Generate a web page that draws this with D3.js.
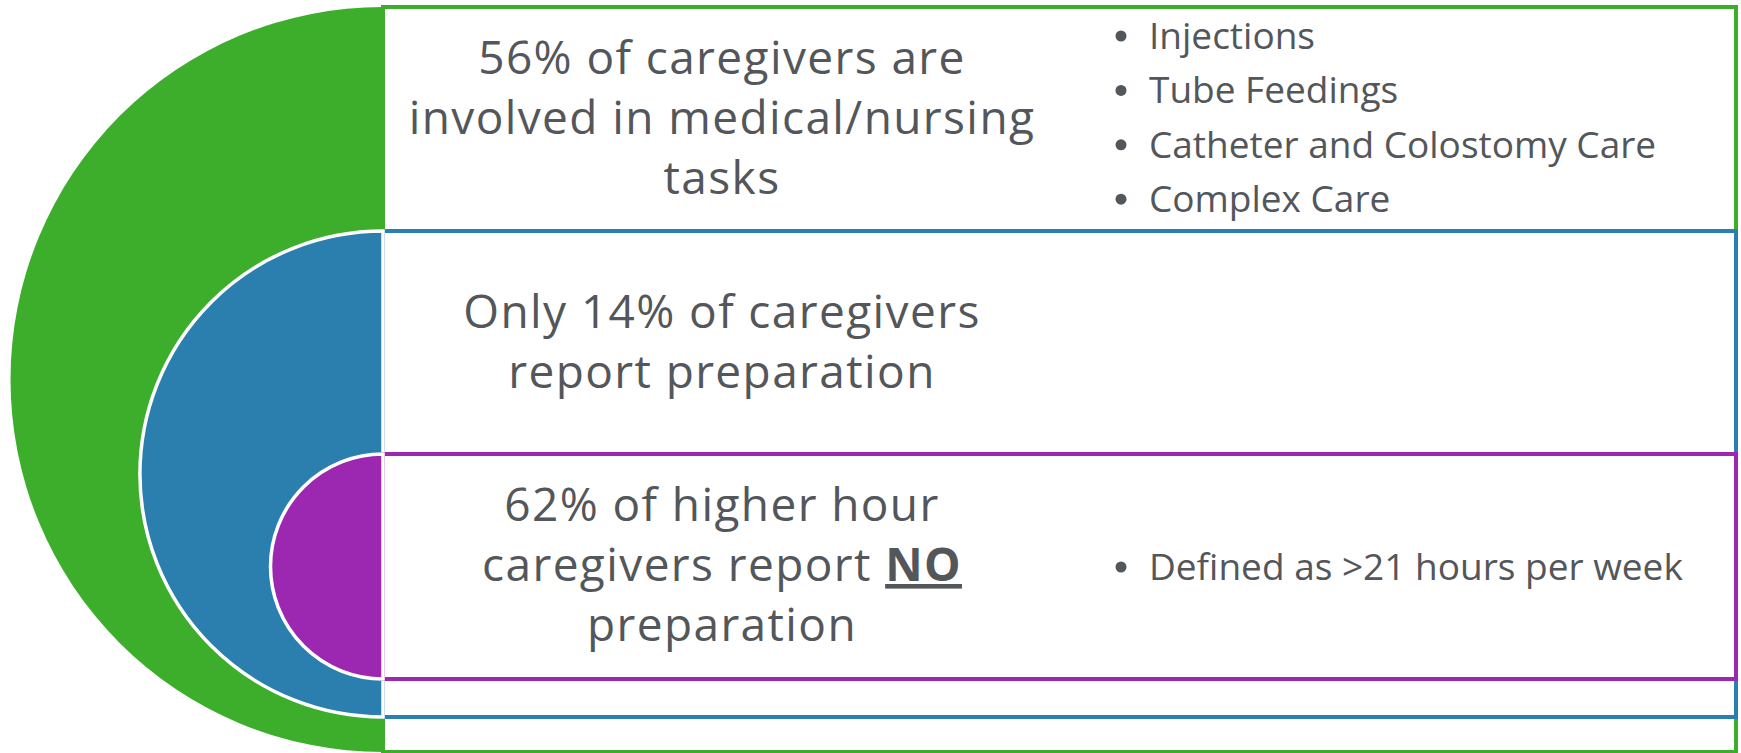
<!DOCTYPE html>
<html>
<head>
<meta charset="utf-8">
<script src="https://d3js.org/d3.v7.min.js"></script>
<style>
  body { margin: 0; background: #fff; }
  svg { display: block; }
</style>
</head>
<body>
<svg id="chart"></svg>
<script>
const width = 1741
const height = 753

// data
const levels = ["medical", "preparation", "noPreparation"]
const levelColours = ["#3dae2b", "#2b7fae", "#9c28b1"]
const headlines = [
    [["56% of caregivers are"], ["involved in medical/nursing"], ["tasks"]],
    [["Only 14% of caregivers"], ["report preparation"]],
    [["62% of higher hour"], ["caregivers report ", "NO"], ["preparation"]]
]
const bulletLists = [
    ["Injections", "Tube Feedings", "Catheter and Colostomy Care", "Complex Care"],
    [],
    ["Defined as >21 hours per week"]
]

// layout: each level spans a vertical band, the semicircle fills it
const bandTop = [7, 231, 454]
const bandBottom = [752, 717, 679]
const cx = 383
const boxRight = 1736
const textColour = "#53565a"

const y = d3.scaleLinear().domain([0, height]).range([0, height])

const svg = d3.select("#chart")
    .attr("width", width)
    .attr("height", height)

const arc = d3.arc()
    .innerRadius(0)
    .startAngle(Math.PI)
    .endAngle(2*Math.PI)

const shapes = svg.append("g")
shapes.selectAll("g.level")
    .data(levels)
    .join(enter => {
        const g = enter.append("g").attr("class", "level")
        g.append("rect")
            .attr("x", cx)
            .attr("y", (d,i) => y(bandTop[i]))
            .attr("width", boxRight - cx)
            .attr("height", (d,i) => y(bandBottom[i]) - y(bandTop[i]))
            .attr("fill", "#fff")
            .attr("stroke", (d,i) => levelColours[i])
            .attr("stroke-width", 4)
        g.append("path")
            .attr("transform", (d,i) => `translate(${cx},${(y(bandTop[i]) + y(bandBottom[i]))/2})`)
            .attr("d", (d,i) => arc({outerRadius: (y(bandBottom[i]) - y(bandTop[i]))/2}))
            .attr("fill", (d,i) => levelColours[i])
            .attr("stroke", (d,i) => i == 0 ? "none" : "#fff")
            .attr("stroke-width", 3.5)
        return g
    })

// headline text
const lineGap = 60
const firstBaseline = [74, 327.5, 521]
const headlineX = 722
const texts = svg.append("g")
    .attr("font-family", "'Open Sans', sans-serif")
    .attr("fill", textColour)

headlines.forEach((lines, i) => {
    const t = texts.append("text")
        .attr("text-anchor", "middle")
        .attr("font-size", 46)
        .attr("letter-spacing", 1.4)
    lines.forEach((parts, j) => {
        const line = t.append("tspan")
            .attr("x", headlineX)
            .attr("y", y(firstBaseline[i] + j*lineGap))
        parts.forEach((p, k) => {
            const s = line.append("tspan").text(p)
            if (k == 1) {
                s.attr("font-weight", "bold").attr("text-decoration", "underline")
            }
        })
    })
})

// bullets
const bulletGap = 54.4
const bulletBaseline = [49, 0, 580]
const bulletX = 1121
const bulletTextX = 1149
bulletLists.forEach((items, i) => {
    const g = texts.append("g")
    g.selectAll("circle")
        .data(items)
        .join("circle")
        .attr("cx", bulletX)
        .attr("cy", (d,j) => y(bulletBaseline[i] + j*bulletGap - 13))
        .attr("r", 5.5)
        .attr("fill", textColour)
    g.selectAll("text")
        .data(items)
        .join("text")
        .attr("x", bulletTextX)
        .attr("y", (d,j) => y(bulletBaseline[i] + j*bulletGap))
        .attr("font-size", 37)
        .text(d => d)
})
</script>
</body>
</html>
